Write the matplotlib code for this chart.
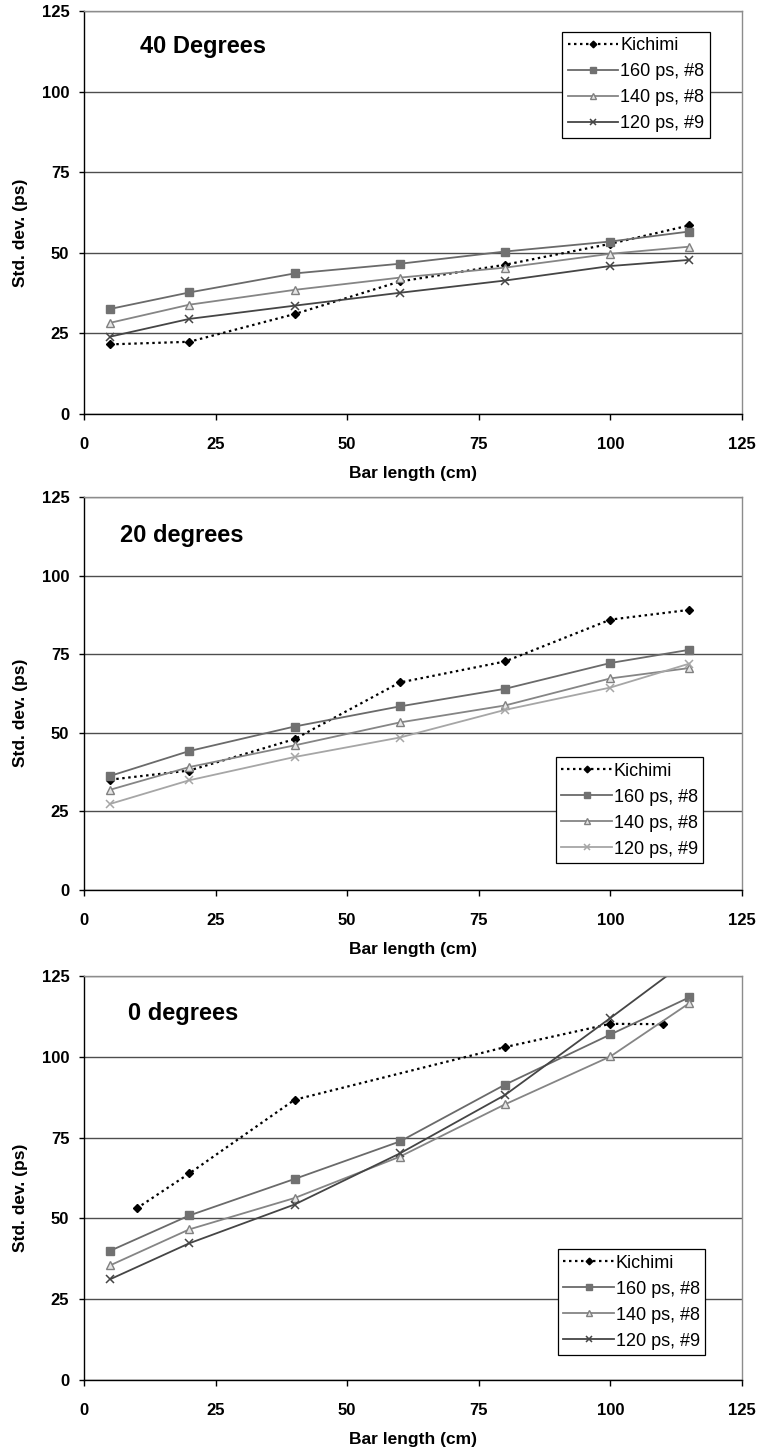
import matplotlib
matplotlib.use("Agg")
import matplotlib.pyplot as plt

plt.rcParams['font.family'] = ['Liberation Sans', 'DejaVu Sans']

# ---------------- data ----------------
bar_length = [5, 20, 40, 60, 80, 100, 115]
series_labels = ["Kichimi", "160 ps, #8", "140 ps, #8", "120 ps, #9"]
xticks = [0, 25, 50, 75, 100, 125]
yticks = [0, 25, 50, 75, 100, 125]

# 40 degrees
kichimi_40 = [21.6, 22.4, 31.0, 41.1, 46.3, 52.8, 58.5]
ps160_40 = [32.6, 37.7, 43.6, 46.6, 50.4, 53.5, 56.6]
ps140_40 = [28.3, 33.9, 38.5, 42.3, 45.4, 49.7, 51.9]
ps120_40 = [24.0, 29.5, 33.6, 37.6, 41.4, 45.9, 47.8]

# 20 degrees
kichimi_20 = [35.1, 38.0, 48.0, 66.0, 72.7, 86.0, 89.1]
ps160_20 = [36.3, 44.2, 52.0, 58.4, 64.0, 72.2, 76.4]
ps140_20 = [31.9, 39.1, 46.0, 53.3, 58.7, 67.3, 70.6]
ps120_20 = [27.4, 34.9, 42.3, 48.5, 57.3, 64.4, 72.0]

# 0 degrees
kichimi_x_0 = [10, 20, 40, 80, 100, 110]
kichimi_0 = [53.1, 63.9, 86.7, 103.0, 110.2, 110.1]
ps160_0 = [40.0, 50.9, 62.2, 73.8, 91.4, 106.9, 118.4]
ps140_0 = [35.5, 46.6, 56.3, 69.1, 85.3, 100.1, 116.6]
ps120_0 = [31.2, 42.3, 54.3, 70.1, 88.2, 112.0, 130.2]

panels = [
    dict(title="40 Degrees", kx=bar_length, k=kichimi_40, s160=ps160_40, s140=ps140_40, s120=ps120_40,
         c120="#454545", rect=[84, 11, 742, 414], title_pos=(0.085, 0.911), leg=(0.951, 0.948)),
    dict(title="20 degrees", kx=bar_length, k=kichimi_20, s160=ps160_20, s140=ps140_20, s120=ps120_20,
         c120="#a6a6a6", rect=[84, 497, 742, 890], title_pos=(0.055, 0.901), leg=(0.941, 0.338)),
    dict(title="0 degrees", kx=kichimi_x_0, k=kichimi_0, s160=ps160_0, s140=ps140_0, s120=ps120_0,
         c120="#454545", rect=[84, 976, 742, 1380], title_pos=(0.067, 0.908), leg=(0.944, 0.324)),
]

W, H = 760, 1452
fig = plt.figure(figsize=(W / 100, H / 100), dpi=100)

for p in panels:
    l, t, r, b = p["rect"]
    ax = fig.add_axes([l / W, 1 - b / H, (r - l) / W, (b - t) / H])
    ax.set_xlim(0, 125)
    ax.set_ylim(0, 125)
    ax.set_xticks(xticks)
    ax.set_yticks(yticks)
    ax.yaxis.grid(True, color="#4d4d4d", linewidth=1.0)
    ax.set_axisbelow(True)
    for s in ["top", "right"]:
        ax.spines[s].set_color("#8c8c8c")
        ax.spines[s].set_linewidth(1.0)
    for s in ["left", "bottom"]:
        ax.spines[s].set_color("black")
        ax.spines[s].set_linewidth(1.0)
    ax.tick_params(axis="x", direction="out", length=4.5, width=1, pad=12, labelsize=12)
    ax.tick_params(axis="y", direction="out", length=3.6, width=1, pad=7, labelsize=12)
    for lab in ax.get_xticklabels() + ax.get_yticklabels():
        lab.set_fontweight("bold")

    ax.plot(p["kx"], p["k"], linestyle=(0, (1.1, 1.6)), color="black", linewidth=1.6,
            marker="D", markersize=4.5, markerfacecolor="black", markeredgecolor="black",
            label=series_labels[0])
    ax.plot(bar_length, p["s160"], linestyle="-", color="#6a6a6a", linewidth=1.3,
            marker="s", markersize=5.5, markerfacecolor="#717171", markeredgecolor="#717171",
            label=series_labels[1])
    ax.plot(bar_length, p["s140"], linestyle="-", color="#858585", linewidth=1.3,
            marker="^", markersize=6, markerfacecolor="#e6e6e6", markeredgecolor="#808080",
            markeredgewidth=1.0, label=series_labels[2])
    ax.plot(bar_length, p["s120"], linestyle="-", color=p["c120"], linewidth=1.3,
            marker="x", markersize=6, markeredgewidth=1.1, label=series_labels[3])

    ax.text(p["title_pos"][0], p["title_pos"][1], p["title"], transform=ax.transAxes,
            ha="left", va="center", fontsize=17, fontweight="bold")

    ax.set_xlabel("Bar length (cm)", fontsize=12.5, fontweight="bold", labelpad=10)
    ax.set_ylabel("Std. dev. (ps)", fontsize=12.5, fontweight="bold", va="center")
    ax.yaxis.set_label_coords(-0.097, 0.45)

    leg = ax.legend(loc="upper right", bbox_to_anchor=p["leg"], borderaxespad=0,
                    fontsize=13, frameon=True, fancybox=False, framealpha=1,
                    edgecolor="black", handlelength=2.8, handletextpad=0.1,
                    borderpad=0.3, labelspacing=0.5, numpoints=1, markerscale=0.75)
    leg.get_frame().set_linewidth(0.9)

fig.savefig("out.png", dpi=100, facecolor="white")
